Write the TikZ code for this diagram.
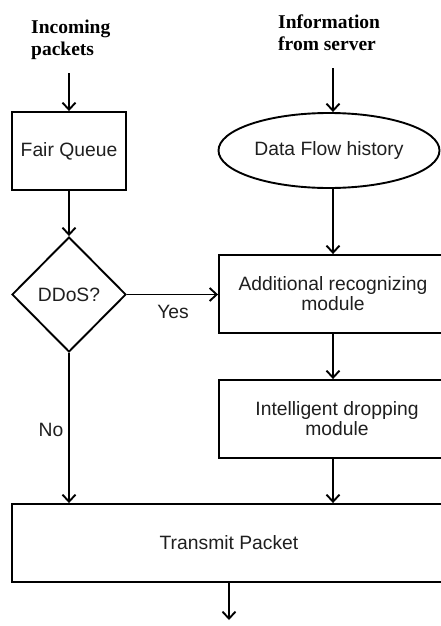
\documentclass[tikz,border=0pt]{standalone}
\usepackage{fontspec}
\setsansfont{Liberation Sans}
\newfontfamily\headfont{Liberation Serif}
\usetikzlibrary{shapes.geometric,arrows.meta}
\tikzset{
  box/.style={draw=black, line width=1.9pt, rectangle, inner sep=0pt,
    font=\sffamily\fontsize{19.3}{20}\selectfont, text=black!88, align=center},
  oval/.style={box, ellipse},
  decision/.style={box, diamond},
  hdr/.style={font=\headfont\bfseries\fontsize{19.5}{22}\selectfont, align=left, inner sep=0pt},
  lbl/.style={font=\sffamily\fontsize{19.3}{20}\selectfont, text=black!88, inner sep=0pt},
  arr/.style={line width=1.9pt, -{Straight Barb[length=7pt,width=13pt,line width=1.9pt]}}
}
\begin{document}
\begin{tikzpicture}[x=1pt,y=-1pt]
  \clip (0,0) rectangle (441,626);
  \fill[white] (0,0) rectangle (441,626);

  % headings
  \node[hdr, anchor=north west] (incoming) at (31,20) {Incoming\\packets};
  \node[hdr, anchor=north west] (info) at (278,14.5) {Information\\from server};

  % process blocks
  \node[box, minimum width=114, minimum height=78] (fq) at (69,151) {Fair Queue};
  \node[oval, minimum width=221, minimum height=75] (dfh) at (329,150.5) {Data Flow history};
  \node[decision, minimum width=114, minimum height=115] (ddos) at (69,294.5) {DDoS?};
  \node[box, minimum width=228, minimum height=78] (arm) at (333,294) {Additional recognizing\\module};
  \node[box, minimum width=236, minimum height=78] (idm) at (337,419) {Intelligent dropping\\module};
  \node[box, minimum width=434, minimum height=78] (tp) at (229,543) {Transmit Packet};

  % free ends and the right column
  \coordinate (col) at (333,0);
  \coordinate (inA) at (69,73);
  \coordinate (inB) at (333,68);
  \coordinate (outA) at (229,620);

  % connectors
  \draw[arr] (inA) -- (fq.north);
  \draw[arr] (inB) -- (dfh.north -| col);
  \draw[arr] (fq.south) -- (ddos.north);
  \draw[arr] (dfh.south -| col) -- (arm.north -| col);
  \draw[arr] (ddos.east) -- (arm.west |- ddos.east);
  \draw[arr] (arm.south -| col) -- (idm.north -| col);
  \draw[arr] (ddos.south) -- (tp.north -| ddos.south);
  \draw[arr] (idm.south -| col) -- (tp.north -| col);
  \draw[arr] (tp.south) -- (outA);

  % branch labels
  \node[lbl] (yes) at (173,312) {Yes};
  \node[lbl] (no) at (51,430) {No};
\end{tikzpicture}
\end{document}
